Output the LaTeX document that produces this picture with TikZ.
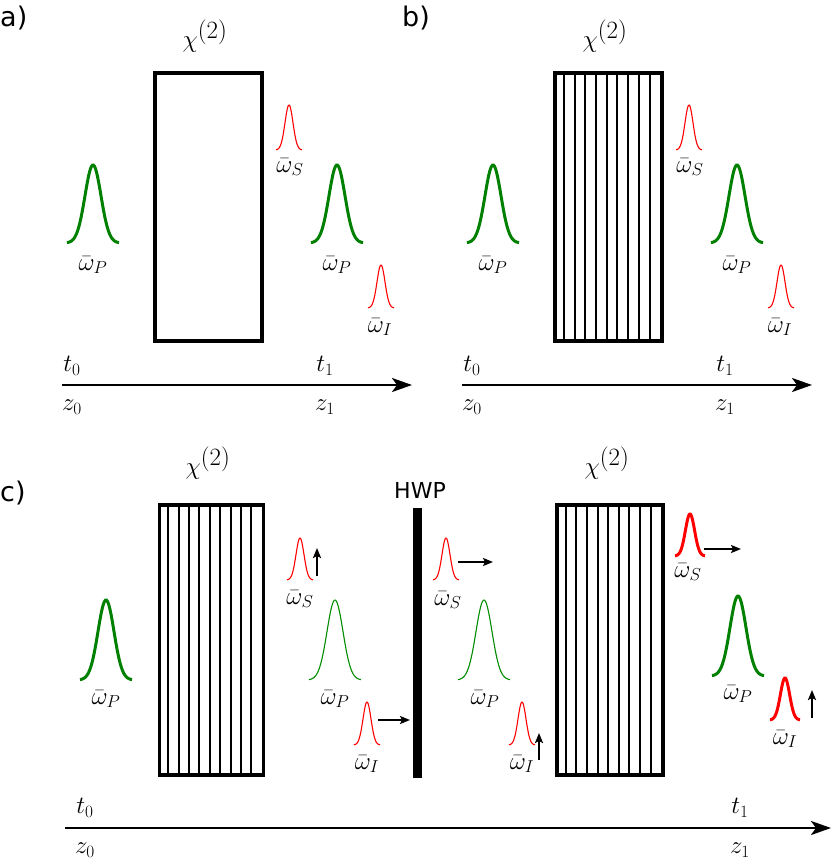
\documentclass[tikz,border=0pt]{standalone}
\usepackage{fontspec}
\newfontfamily\sansf{DejaVu Sans}
\usetikzlibrary{arrows.meta}
\tikzset{
 crys/.style={draw,line width=3.5pt},
 stripe/.style={line width=2pt},
 axis/.style={line width=2.5pt,-{Stealth[length=20pt,width=14pt,inset=5pt]}},
 pol/.style={line width=2.2pt,-{Stealth[length=10pt,width=8pt,inset=2pt]}},
 lab/.style={font=\fontsize{24}{24}\selectfont,inner sep=1pt},
 chi/.style={font=\fontsize{46}{46}\selectfont,inner sep=1pt},
 panel/.style={font=\sansf\fontsize{27}{27}\selectfont,inner sep=0pt},
 gthick/.style={draw=green!50!black,line width=3pt},
 gthin/.style={draw=green!55!black,line width=1.1pt},
 rthin/.style={draw=red,line width=1.1pt},
 rthick/.style={draw=red,line width=3pt}
}
% #1 style, #2 x, #3 base y, #4 height, #5 halfwidth
\newcommand{\pulse}[5]{\draw[#1] plot[domain=-1:1,samples=50] ({#2+\x*#5},{#3-#4*exp(-(\x*2.3)^2)});}
\begin{document}
\begin{tikzpicture}[x=1pt,y=-1pt]
\useasboundingbox (0,0) rectangle (831,864);
% panel labels
\node[panel,anchor=west] (la) at (0,18) {a)};
\node[panel,anchor=west] (lb) at (402,18) {b)};
\node[panel,anchor=west] (lc) at (0,493) {c)};
% ---------- a
\node[crys,minimum width=107pt,minimum height=268pt,inner sep=0pt] (ca) at (208.5,207) {};
\node[chi] (xa) at (205,36) {$\chi^{(2)}$};
\pulse{gthick}{93}{243}{78}{26}
\node[lab] (pa1) at (93,265) {$\bar\omega_P$};
\pulse{rthin}{289}{150}{45}{13}
\node[lab] (sa) at (290,167) {$\bar\omega_S$};
\pulse{gthick}{337}{243}{78}{26}
\node[lab] (pa2) at (337,265) {$\bar\omega_P$};
\pulse{rthin}{381}{308}{43}{13}
\node[lab] (ia) at (380,327) {$\bar\omega_I$};
\coordinate (a0) at (62,385); \coordinate (a1) at (412,385);
\draw[axis] (a0) -- (a1);
\node[lab] (ta0) at (72,366) {$t_0$};
\node[lab] (ta1) at (325,366) {$t_1$};
\node[lab] (za0) at (72,407) {$z_0$};
\node[lab] (za1) at (325,407) {$z_1$};
% ---------- b
\node[crys,minimum width=107pt,minimum height=268pt,inner sep=0pt] (cb) at (608.5,207) {};
\foreach \i in {1,...,9} \draw[stripe] ([xshift=\i*10.7pt]cb.north west) -- ([xshift=\i*10.7pt]cb.south west);
\node[chi] (xb) at (605,36) {$\chi^{(2)}$};
\pulse{gthick}{493}{243}{78}{26}
\node[lab] (pb1) at (493,265) {$\bar\omega_P$};
\pulse{rthin}{689}{150}{45}{13}
\node[lab] (sb) at (690,167) {$\bar\omega_S$};
\pulse{gthick}{737}{243}{78}{26}
\node[lab] (pb2) at (737,265) {$\bar\omega_P$};
\pulse{rthin}{781}{308}{43}{13}
\node[lab] (ib) at (780,327) {$\bar\omega_I$};
\coordinate (b0) at (462,385); \coordinate (b1) at (812,385);
\draw[axis] (b0) -- (b1);
\node[lab] (tb0) at (472,366) {$t_0$};
\node[lab] (tb1) at (725,366) {$t_1$};
\node[lab] (zb0) at (472,407) {$z_0$};
\node[lab] (zb1) at (725,407) {$z_1$};
% ---------- c
\node[crys,minimum width=104pt,minimum height=270pt,inner sep=0pt] (cc1) at (211.5,640) {};
\foreach \i in {1,...,9} \draw[stripe] ([xshift=\i*10.4pt]cc1.north west) -- ([xshift=\i*10.4pt]cc1.south west);
\node[chi] (xc1) at (208,463) {$\chi^{(2)}$};
\node[crys,minimum width=106pt,minimum height=270pt,inner sep=0pt] (cc2) at (610,640) {};
\foreach \i in {1,...,9} \draw[stripe] ([xshift=\i*10.6pt]cc2.north west) -- ([xshift=\i*10.6pt]cc2.south west);
\node[chi] (xc2) at (607,463) {$\chi^{(2)}$};
\node[fill=black,minimum width=9pt,minimum height=270pt,inner sep=0pt] (hwp) at (417,643) {};
\node[font=\sansf\fontsize{22}{22}\selectfont,inner sep=0pt] (hwpl) at (420,490) {HWP};
\pulse{gthick}{106}{680}{80}{26}
\node[lab] (pc1) at (106,699) {$\bar\omega_P$};
\pulse{rthin}{300}{580}{42}{13}
\node[lab] (sc1) at (300,599) {$\bar\omega_S$};
\coordinate (u1a) at (317,576); \coordinate (u1b) at (317,548);
\draw[pol] (u1a) -- (u1b);
\pulse{gthin}{335}{680}{80}{26}
\node[lab] (pc2) at (335,699) {$\bar\omega_P$};
\pulse{rthin}{367}{745}{43}{13}
\node[lab] (ic1) at (367,764) {$\bar\omega_I$};
\coordinate (r1a) at (378,720); \coordinate (r1b) at (410,720);
\draw[pol] (r1a) -- (r1b);
\pulse{rthin}{446}{580}{42}{13}
\node[lab] (sc2) at (448,600) {$\bar\omega_S$};
\coordinate (r2a) at (458,562); \coordinate (r2b) at (493,562);
\draw[pol] (r2a) -- (r2b);
\pulse{gthin}{484}{680}{80}{26}
\node[lab] (pc3) at (485,699) {$\bar\omega_P$};
\pulse{rthin}{522}{745}{43}{13}
\node[lab] (ic2) at (522,764) {$\bar\omega_I$};
\coordinate (u2a) at (539,760); \coordinate (u2b) at (539,733);
\draw[pol] (u2a) -- (u2b);
\pulse{rthick}{690}{556}{42}{15}
\node[lab] (sc3) at (688,572) {$\bar\omega_S$};
\coordinate (r3a) at (704,549); \coordinate (r3b) at (741,549);
\draw[pol] (r3a) -- (r3b);
\pulse{gthick}{738}{676}{80}{26}
\node[lab] (pc4) at (738,694) {$\bar\omega_P$};
\pulse{rthick}{785}{720}{42}{15}
\node[lab] (ic3) at (785,739) {$\bar\omega_I$};
\coordinate (u3a) at (812,718); \coordinate (u3b) at (812,690);
\draw[pol] (u3a) -- (u3b);
\coordinate (c0) at (65,828); \coordinate (c1) at (831,828);
\draw[axis] (c0) -- (c1);
\node[lab] (tc0) at (85,808) {$t_0$};
\node[lab] (tc1) at (740,808) {$t_1$};
\node[lab] (zc0) at (85,850) {$z_0$};
\node[lab] (zc1) at (740,850) {$z_1$};
\end{tikzpicture}
\end{document}
